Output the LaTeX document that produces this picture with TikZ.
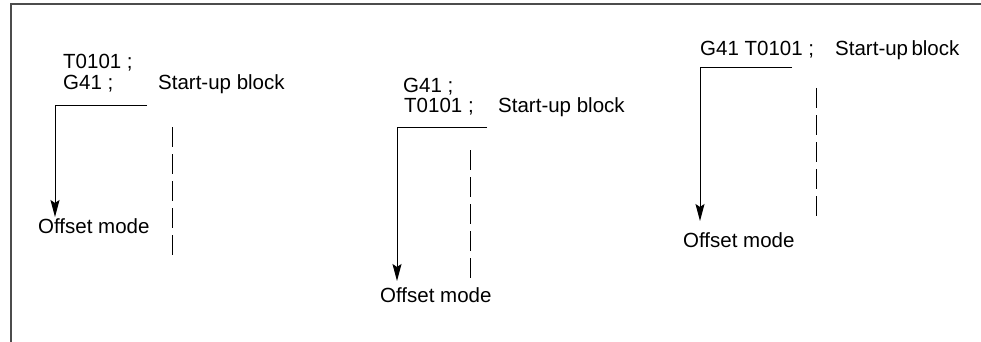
\documentclass[tikz,border=0pt]{standalone}
\usepackage{fontspec}
\setmainfont{Liberation Sans}
\usetikzlibrary{arrows.meta}
\tikzset{
  lbl/.style={anchor=base west, inner sep=0pt, font=\fontsize{20.5}{24}\selectfont},
  frameline/.style={draw=black!70, line width=1.3pt},
  conn/.style={draw=black, line width=1pt},
  arr/.style={conn, -{Stealth[length=17pt,width=9pt,inset=3pt]}},
  dashln/.style={draw=black, line width=1pt, dash pattern=on 20pt off 7pt}
}
\begin{document}
\begin{tikzpicture}[x=1pt,y=-1pt]
\useasboundingbox (0,0) rectangle (981,342);
\fill[white] (0,0) rectangle (981,342);
% frame
\coordinate (fbl) at (11,343);
\coordinate (ftl) at (11,4);
\coordinate (ftr) at (982,4);
\draw[frameline] (fbl) -- (ftl) -- (ftr);

% panel 1
\node[lbl] (p1a) at (63,69) {T0101 ;};
\node[lbl] (p1b) at (63,90) {G41 ;};
\node[lbl] (p1s) at (158,90) {Start-up block};
\node[lbl] (p1o) at (38,233) {Offset mode};
\coordinate (p1h) at (147,106);
\coordinate (p1c) at (55,106);
\coordinate (p1t) at (55,217);
\draw[arr] (p1h) -- (p1c) -- (p1t);
\coordinate (p1d1) at (172,127);
\coordinate (p1d2) at (172,257);
\draw[dashln] (p1d1) -- (p1d2);

% panel 2
\node[lbl] (p2a) at (403,93) {G41 ;};
\node[lbl] (p2b) at (404,113) {T0101 ;};
\node[lbl] (p2s) at (498,113) {Start-up block};
\node[lbl] (p2o) at (380,302) {Offset mode};
\coordinate (p2h) at (487,127);
\coordinate (p2c) at (397,127);
\coordinate (p2t) at (397,281);
\draw[arr] (p2h) -- (p2c) -- (p2t);
\coordinate (p2d1) at (470,150);
\coordinate (p2d2) at (470,278);
\draw[dashln] (p2d1) -- (p2d2);

% panel 3
\node[lbl] (p3a) at (700,56) {G41 T0101 ;};
\node[lbl] (p3s) at (835,56) {Start-up\,block};
\node[lbl] (p3o) at (683,247) {Offset mode};
\coordinate (p3h) at (792,68);
\coordinate (p3c) at (700,68);
\coordinate (p3t) at (700,221);
\draw[arr] (p3h) -- (p3c) -- (p3t);
\coordinate (p3d1) at (816,88);
\coordinate (p3d2) at (816,218);
\draw[dashln] (p3d1) -- (p3d2);
\end{tikzpicture}
\end{document}
